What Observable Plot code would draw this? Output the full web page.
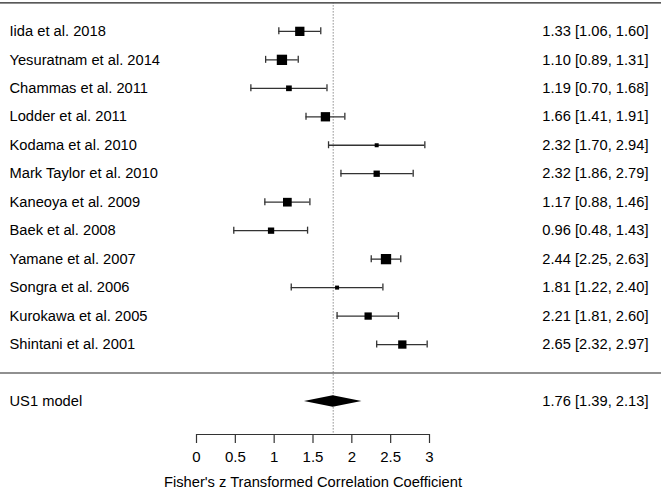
<!DOCTYPE html>
<html>
<head>
<meta charset="utf-8">
<script src="https://cdn.jsdelivr.net/npm/d3@7"></script>
<script src="https://cdn.jsdelivr.net/npm/@observablehq/plot@0.6"></script>
<style>
  html, body { margin: 0; padding: 0; background: #fff; }
</style>
</head>
<body>
<div id="chart"></div>
<script>
const studies = ["Iida et al. 2018", "Yesuratnam et al. 2014", "Chammas et al. 2011", "Lodder et al. 2011",
  "Kodama et al. 2010", "Mark Taylor et al. 2010", "Kaneoya et al. 2009", "Baek et al. 2008",
  "Yamane et al. 2007", "Songra et al. 2006", "Kurokawa et al. 2005", "Shintani et al. 2001"];
const estimates = [1.33, 1.10, 1.19, 1.66, 2.32, 2.32, 1.17, 0.96, 2.44, 1.81, 2.21, 2.65];
const lower = [1.06, 0.89, 0.70, 1.41, 1.70, 1.86, 0.88, 0.48, 2.25, 1.22, 1.81, 2.32];
const upper = [1.60, 1.31, 1.68, 1.91, 2.94, 2.79, 1.46, 1.43, 2.63, 2.40, 2.60, 2.97];
const weights = [9.3, 10.3, 5.7, 9.3, 4.0, 6.3, 8.7, 6.3, 10.3, 4.0, 7.3, 8.3];

const modelLabel = "US1 model";
const modelEst = 1.76, modelLo = 1.39, modelHi = 2.13;

const xTicks = [0, 0.5, 1, 1.5, 2, 2.5, 3];
const xLabel = "Fisher's z Transformed Correlation Coefficient";

const k = studies.length;
const rows = studies.map((s, i) => ({
  study: s, est: estimates[i], lo: lower[i], hi: upper[i], w: weights[i], row: k - i,
  lab: `${estimates[i].toFixed(2)} [${lower[i].toFixed(2)}, ${upper[i].toFixed(2)}]`
}));
const modelRow = -1;
const yTop = k + 1, yBottom = -2.16;
const diamond = [
  {x: modelLo, h: 0}, {x: modelEst, h: 1}, {x: modelHi, h: 0}
];
const FONT = 14.7;
const ff = "'Liberation Sans', Arial, Helvetica, sans-serif";

const chart = Plot.plot({
  width: 661,
  height: 495,
  marginTop: 0, marginRight: 0, marginLeft: 0, marginBottom: 61,
  style: {fontFamily: ff, background: "#fff", color: "#000"},
  x: {domain: [xTicks[0], xTicks[xTicks.length - 1]], range: [196, 429]},
  y: {domain: [yTop, yBottom], range: [2.4, 434], axis: null},
  r: {type: "linear", domain: [4, 10.3], range: [4 / 1.772, 10.3 / 1.772]},
  marks: [
    Plot.ruleY([yTop], {stroke: "#222", strokeWidth: 1.2}),
    Plot.ruleY([0], {stroke: "#222", strokeWidth: 1.2}),
    Plot.ruleX([modelEst], {y1: yTop, y2: yBottom, stroke: "#555", strokeDasharray: "1,2", strokeWidth: 1}),
    Plot.ruleY(rows, {y: "row", x1: "lo", x2: "hi", stroke: "#333", strokeWidth: 1.3}),
    Plot.ruleX(rows, {x: "lo", y1: "row", y2: "row", insetTop: -3.5, insetBottom: -3.5, stroke: "#333", strokeWidth: 1.3}),
    Plot.ruleX(rows, {x: "hi", y1: "row", y2: "row", insetTop: -3.5, insetBottom: -3.5, stroke: "#333", strokeWidth: 1.3}),
    Plot.dot(rows, {x: "est", y: "row", r: "w", symbol: "square", fill: "#000", stroke: null}),
    Plot.areaY(diamond, {x: "x", y1: d => modelRow - 0.2 * d.h, y2: d => modelRow + 0.2 * d.h, fill: "#000", curve: "linear"}),
    Plot.text(rows, {y: "row", text: "study", frameAnchor: "left", textAnchor: "start", dx: 9, fontSize: FONT, fill: "#000"}),
    Plot.text(rows, {y: "row", text: "lab", frameAnchor: "right", textAnchor: "end", dx: -13, fontSize: FONT, fill: "#000"}),
    Plot.text([modelLabel], {y: modelRow, text: d => d, frameAnchor: "left", textAnchor: "start", dx: 9, fontSize: FONT, fill: "#000"}),
    Plot.text([`${modelEst.toFixed(2)} [${modelLo.toFixed(2)}, ${modelHi.toFixed(2)}]`], {y: modelRow, text: d => d, frameAnchor: "right", textAnchor: "end", dx: -13, fontSize: FONT, fill: "#000"}),
    Plot.ruleY([yBottom], {x1: xTicks[0], x2: xTicks[xTicks.length - 1], stroke: "#333", strokeWidth: 1.2}),
    Plot.axisX(xTicks, {anchor: "bottom", tickSize: 9, text: null, label: null, stroke: "#333", strokeWidth: 1.2}),
    Plot.text(xTicks, {x: d => d, text: d => String(d), frameAnchor: "bottom", lineAnchor: "middle", dy: 22.3, fontSize: 15, fill: "#000"}),
    Plot.text([xLabel], {x: (xTicks[0] + xTicks[xTicks.length - 1]) / 2, frameAnchor: "bottom", text: d => d, lineAnchor: "middle", dy: 47.3, fontSize: FONT, fill: "#000"})
  ]
});
document.getElementById("chart").appendChild(chart);
</script>
</body>
</html>
